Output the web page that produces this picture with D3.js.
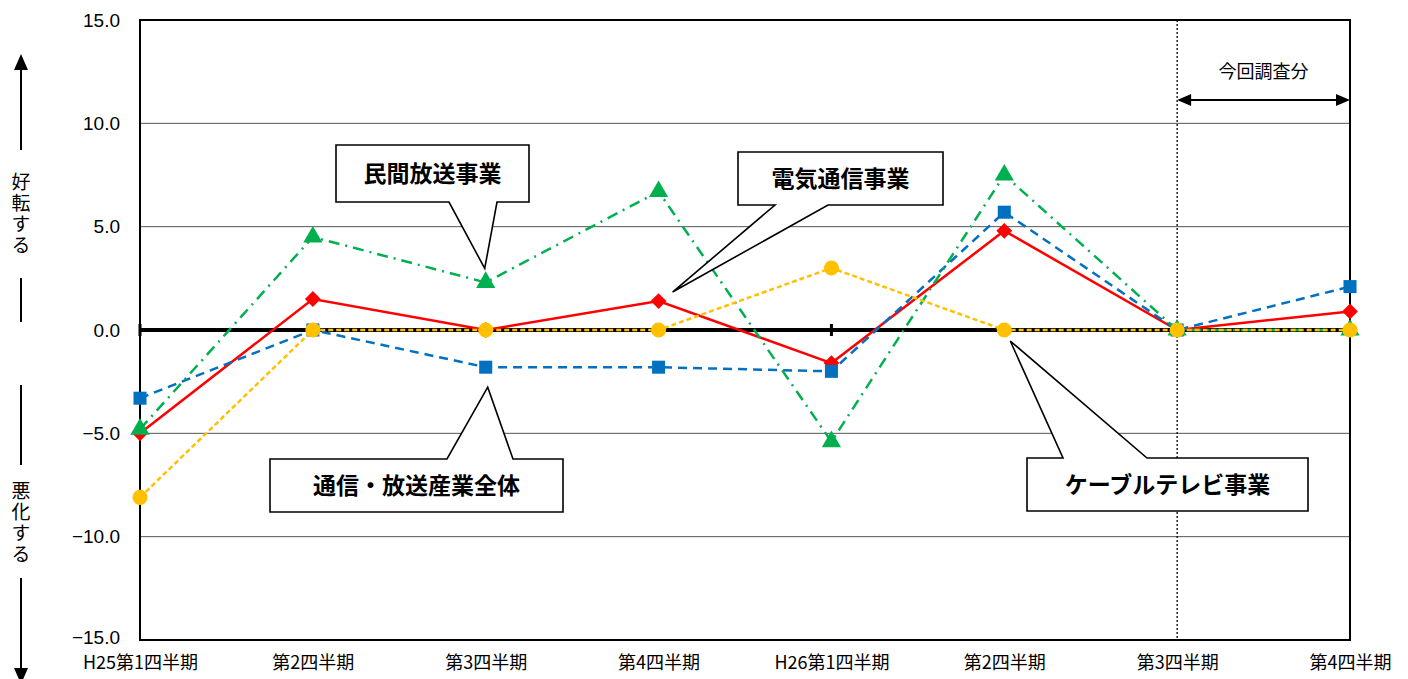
<!DOCTYPE html>
<html><head><meta charset="utf-8">
<script src="https://cdn.jsdelivr.net/npm/d3@7"></script>
<style>
html,body{margin:0;padding:0;background:#fff;}
svg{display:block;}
</style></head>
<body>
<svg id="chart" width="1408" height="679"></svg>
<script>
// ---- data ----
const categories = ["H25第1四半期","第2四半期","第3四半期","第4四半期","H26第1四半期","第2四半期 ","第3四半期 ","第4四半期 "];
const yTicks = [-15,-10,-5,0,5,10,15];
const overall   = [-3.3, 0.0, -1.8, -1.8, -2.0, 5.7, 0.0, 2.1];   // 通信・放送産業全体 (blue)
const telecom   = [-5.0, 1.5, 0.0, 1.4, -1.6, 4.8, 0.0, 0.9];     // 電気通信事業 (red)
const broadcast = [-4.8, 4.5, 2.3, 6.7, -5.4, 7.5, 0.0, 0.0];     // 民間放送事業 (green)
const cable     = [-8.1, 0.0, 0.0, 0.0, 3.0, 0.0, 0.0, 0.0];      // ケーブルテレビ事業 (yellow)
const seriesNames = ["電気通信事業","通信・放送産業全体","民間放送事業","ケーブルテレビ事業"];
const currentSurveyLabel = "今回調査分";
const upLabel = "好転する", downLabel = "悪化する";

// ---- layout ----
const svg = d3.select("#chart");
const L = 140, R = 1350, T = 20, B = 640;
const x = d3.scalePoint().domain(categories).range([L, R]).padding(0);
const y = d3.scaleLinear().domain([-15, 15]).range([B, T]);
const jp = "'Noto Sans CJK JP','Noto Sans',sans-serif";
const num = "'Liberation Sans',Arial,sans-serif";

// gridlines
svg.append("g").selectAll("line").data(yTicks.filter(v => v !== 0 && Math.abs(v) !== 15)).join("line")
  .attr("x1", L).attr("x2", R).attr("y1", d => y(d)).attr("y2", d => y(d))
  .attr("stroke", "#555").attr("stroke-width", 1);

// dotted separator
svg.append("line").attr("x1", x(categories[6])).attr("x2", x(categories[6]))
  .attr("y1", T).attr("y2", B).attr("stroke", "#000").attr("stroke-width", 1.3).attr("stroke-dasharray", "2,2");

// plot border
svg.append("rect").attr("x", L).attr("y", T).attr("width", R - L).attr("height", B - T)
  .attr("fill", "none").attr("stroke", "#000").attr("stroke-width", 2);

// y axis labels
const yAxis = svg.append("g").attr("transform", `translate(${L},0)`)
  .call(d3.axisLeft(y).tickValues(yTicks).tickSize(0).tickPadding(20).tickFormat(d3.format(".1f")));
yAxis.select(".domain").remove();
yAxis.selectAll("text").attr("font-family", num).attr("font-size", 19).attr("fill", "#000");
yAxis.selectAll("text").filter(d => d === -15).attr("dy", "0.2em");

// x axis labels
const xAxis = svg.append("g").attr("transform", `translate(0,${B})`)
  .call(d3.axisBottom(x).tickSize(0).tickPadding(16));
xAxis.select(".domain").remove();
xAxis.selectAll("text").attr("font-family", jp).attr("font-size", 18).attr("fill", "#000")
  .text(d => d.trim());

// zero line with ticks
const zeroAxis = svg.append("g").attr("transform", `translate(0,${y(0)})`);
zeroAxis.append("line").attr("x1", L).attr("x2", R).attr("stroke", "#000").attr("stroke-width", 4);
zeroAxis.selectAll("line.tk").data(categories).join("line").attr("class", "tk")
  .attr("x1", d => x(d)).attr("x2", d => x(d)).attr("y1", -6).attr("y2", 6)
  .attr("stroke", "#000").attr("stroke-width", 3);

// series
const series = [
  {name: seriesNames[0], values: telecom,   color: "#FF0000", dash: null,        marker: "diamond"},
  {name: seriesNames[1], values: overall,   color: "#0070C0", dash: "9,6",       marker: "square"},
  {name: seriesNames[2], values: broadcast, color: "#00B050", dash: "11,6,2,6",  marker: "triangle"},
  {name: seriesNames[3], values: cable,     color: "#FFC000", dash: "5,3",       marker: "circle"}
];
const line = d3.line().x((d, i) => x(categories[i])).y(d => y(d));
const symbols = {
  diamond: d3.symbol().type(d3.symbolSquare).size(125),
  square: d3.symbol().type(d3.symbolSquare).size(170),
  triangle: d3.symbol().type(d3.symbolTriangle).size(160),
  circle: d3.symbol().type(d3.symbolCircle).size(180)
};
series.forEach(s => {
  const g = svg.append("g");
  g.append("path").datum(s.values).attr("d", line).attr("fill", "none")
    .attr("stroke", s.color).attr("stroke-width", 2.5).attr("stroke-dasharray", s.dash);
  g.selectAll("path.m").data(s.values).join("path").attr("class", "m")
    .attr("d", symbols[s.marker])
    .attr("transform", (d, i) => `translate(${x(categories[i])},${y(d)})` + (s.marker === "diamond" ? " rotate(45)" : ""))
    .attr("fill", s.color);
});

// callouts
function callout(box, base, tip, label) {
  const [x0, y0, x1, y1] = box;
  let p;
  if (tip[1] > y1) { // pointer from bottom edge
    p = `M${x0},${y0}H${x1}V${y1}H${base[1]}L${tip[0]},${tip[1]}L${base[0]},${y1}H${x0}Z`;
  } else { // pointer from top edge
    p = `M${x0},${y0}H${base[0]}L${tip[0]},${tip[1]}L${base[1]},${y0}H${x1}V${y1}H${x0}Z`;
  }
  svg.append("path").attr("d", p).attr("fill", "#fff").attr("stroke", "#000").attr("stroke-width", 1.6)
    .attr("stroke-linejoin", "miter");
  svg.append("text").attr("x", (x0 + x1) / 2).attr("y", (y0 + y1) / 2).attr("dy", "0.36em")
    .attr("text-anchor", "middle").attr("font-family", jp).attr("font-weight", "bold")
    .attr("font-size", 23).attr("fill", "#000").text(label);
}
callout([336, 145, 529, 202], [449, 497], [x(categories[2]) - 1, y(broadcast[2]) - 14], seriesNames[2]);
callout([738, 152, 943, 205], [775, 828], [x(categories[3]) + 14, y(telecom[3]) - 9], seriesNames[0]);
callout([270, 459, 563, 512], [447, 513], [x(categories[2]) + 2, y(overall[2]) + 20], seriesNames[1]);
callout([1027, 458, 1308, 511], [1063, 1147], [x(categories[5]) + 6, y(cable[5]) + 11], seriesNames[3]);

// 今回調査分 annotation
const ax0 = x(categories[6]), ax1 = x(categories[7]), ay = 100;
svg.append("line").attr("x1", ax0 + 10).attr("x2", ax1 - 10).attr("y1", ay).attr("y2", ay)
  .attr("stroke", "#000").attr("stroke-width", 2);
svg.append("path").attr("d", `M${ax0},${ay}L${ax0 + 14},${ay - 6}L${ax0 + 14},${ay + 6}Z`).attr("fill", "#000");
svg.append("path").attr("d", `M${ax1},${ay}L${ax1 - 14},${ay - 6}L${ax1 - 14},${ay + 6}Z`).attr("fill", "#000");
svg.append("text").attr("x", (ax0 + ax1) / 2).attr("y", 72).attr("dy", "0.36em")
  .attr("text-anchor", "middle").attr("font-family", jp).attr("font-size", 18).attr("fill", "#000")
  .text(currentSurveyLabel);

// left side direction annotation
const lx = 21;
function vtext(str, top) {
  svg.append("text").attr("x", lx).attr("y", top)
    .style("writing-mode", "vertical-rl").attr("text-anchor", "start")
    .attr("font-family", jp).attr("font-size", 19).attr("letter-spacing", 2).attr("fill", "#000")
    .text(str);
}
svg.append("line").attr("x1", lx).attr("x2", lx).attr("y1", 68).attr("y2", 150).attr("stroke", "#000").attr("stroke-width", 2);
svg.append("path").attr("d", `M${lx},54L${lx - 7},70L${lx + 7},70Z`).attr("fill", "#000");
vtext(upLabel, 172);
svg.append("line").attr("x1", lx).attr("x2", lx).attr("y1", 278).attr("y2", 322).attr("stroke", "#000").attr("stroke-width", 2);
svg.append("line").attr("x1", lx).attr("x2", lx).attr("y1", 385).attr("y2", 465).attr("stroke", "#000").attr("stroke-width", 2);
vtext(downLabel, 481);
svg.append("line").attr("x1", lx).attr("x2", lx).attr("y1", 578).attr("y2", 668).attr("stroke", "#000").attr("stroke-width", 2);
svg.append("path").attr("d", `M${lx},684L${lx - 7},668L${lx + 7},668Z`).attr("fill", "#000");
</script>
</body></html>
